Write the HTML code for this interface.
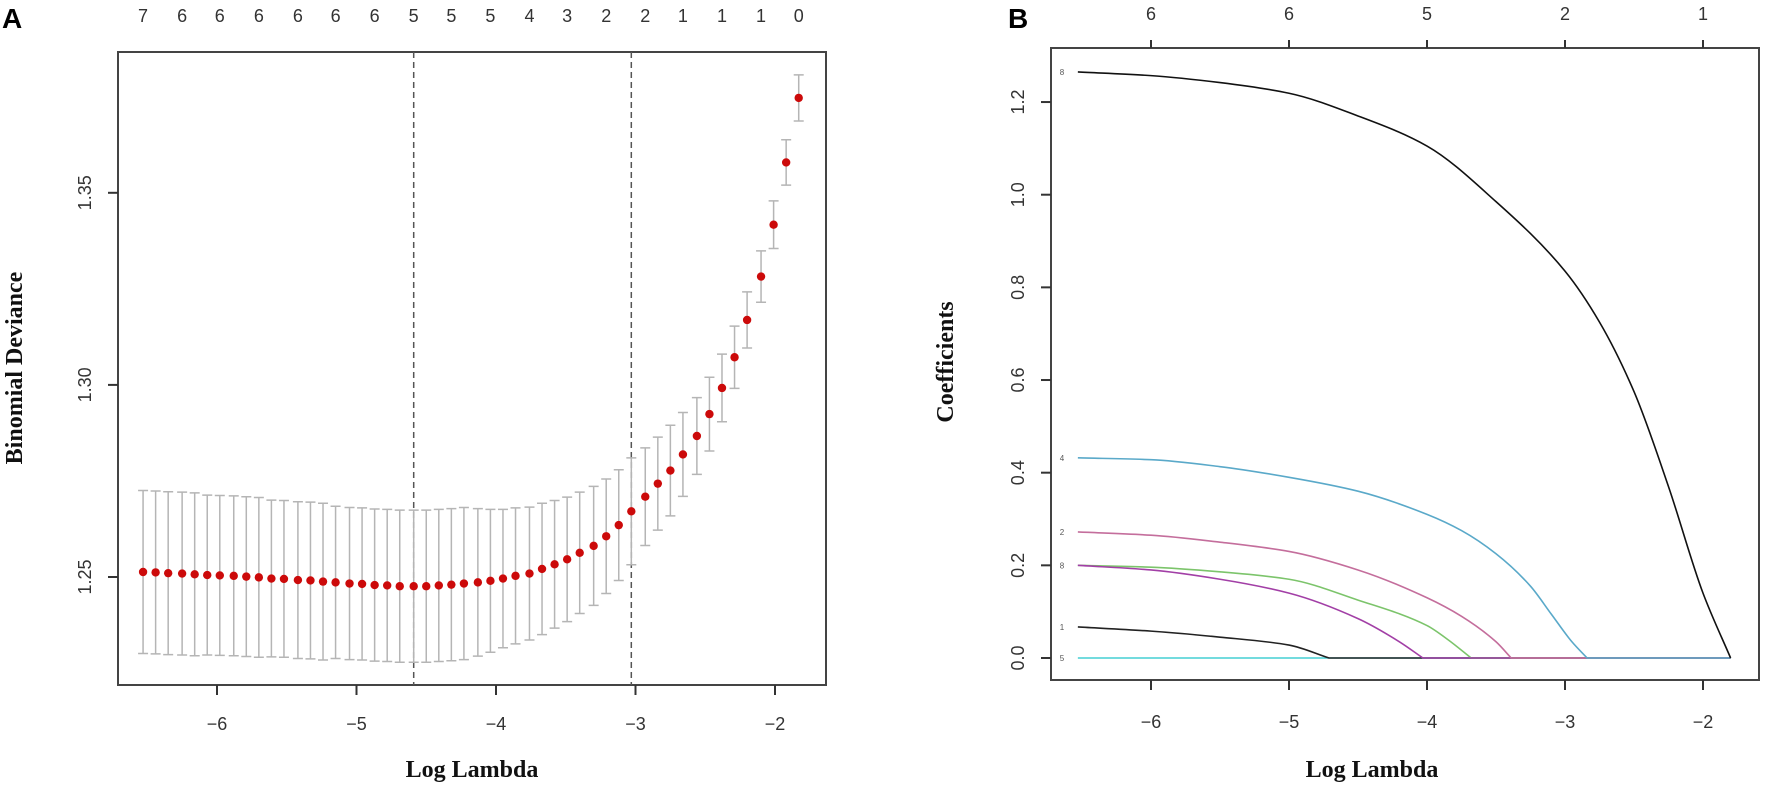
<!DOCTYPE html>
<html><head><meta charset="utf-8"><style>
html,body{margin:0;padding:0;background:#fff;}
svg{display:block;}
.tk{font-family:"Liberation Sans",sans-serif;font-size:18px;fill:#333;}
.ttl{font-family:"Liberation Serif",serif;font-size:24px;font-weight:bold;fill:#111;}
.pl{font-family:"Liberation Sans",sans-serif;font-size:28px;font-weight:bold;fill:#000;}
.sm{font-family:"Liberation Sans",sans-serif;font-size:8px;fill:#555;}
</style></head><body>
<svg id="fig" width="1772" height="791" viewBox="0 0 1772 791" xmlns="http://www.w3.org/2000/svg">
<rect width="1772" height="791" fill="#fff"/>
<text x="2" y="28" class="pl">A</text>
<text x="1008" y="28" class="pl">B</text>
<g id="pa"></g>
<g id="pb"></g>
</svg>
<script>
// ===== Panel A data =====
const logLambda = [-6.53,-6.44,-6.35,-6.25,-6.16,-6.07,-5.98,-5.88,-5.79,-5.70,-5.61,-5.52,-5.42,-5.33,-5.24,-5.15,-5.05,-4.96,-4.87,-4.78,-4.69,-4.59,-4.50,-4.41,-4.32,-4.23,-4.13,-4.04,-3.95,-3.86,-3.76,-3.67,-3.58,-3.49,-3.40,-3.30,-3.21,-3.12,-3.03,-2.93,-2.84,-2.75,-2.66,-2.56,-2.47,-2.38,-2.29,-2.20,-2.10,-2.01,-1.92,-1.83];
const deviance = [1.2513,1.2512,1.2510,1.2509,1.2507,1.2505,1.2504,1.2503,1.2501,1.2499,1.2496,1.2495,1.2492,1.2491,1.2488,1.2486,1.2483,1.2482,1.2479,1.2478,1.2476,1.2476,1.2476,1.2478,1.2480,1.2483,1.2486,1.2490,1.2496,1.2503,1.2509,1.2521,1.2533,1.2546,1.2563,1.2581,1.2606,1.2635,1.2671,1.2709,1.2743,1.2777,1.2819,1.2867,1.2924,1.2992,1.3072,1.3169,1.3282,1.3417,1.3579,1.3747];
const devianceSE = [0.0212,0.0212,0.0212,0.0212,0.0212,0.0208,0.0208,0.0208,0.0208,0.0208,0.0204,0.0204,0.0204,0.0204,0.0204,0.0198,0.0198,0.0198,0.0198,0.0198,0.0198,0.0198,0.0198,0.0198,0.0198,0.0198,0.0192,0.0186,0.0180,0.0177,0.0173,0.0171,0.0166,0.0162,0.0158,0.0155,0.0149,0.0144,0.0139,0.0127,0.0121,0.0118,0.0109,0.0100,0.0096,0.0088,0.0081,0.0073,0.0067,0.0062,0.0059,0.0060];
const nonzeroCounts = [7,6,6,6,6,6,6,5,5,5,4,3,2,2,1,1,1,0];
const xTicksA = [-6,-5,-4,-3,-2];
const yTicksA = [1.25,1.30,1.35];
const yTickLabelsA = ["1.25","1.30","1.35"];
const lambdaMin = -4.59, lambda1se = -3.03;

// ===== Panel B data =====
const xTicksB = [-6,-5,-4,-3,-2];
const topCountsB = [6,6,5,2,1];
const yTicksB = [0,0.2,0.4,0.6,0.8,1.0,1.2];
const yTickLabelsB = ["0.0","0.2","0.4","0.6","0.8","1.0","1.2"];
const varLabels = ["8","4","2","8","1","5","g"];
const varColors = ["#111111","#5aa9c9","#c46e9c","#a23fa6","#222222","#45cfd3","#7cc46b"];
const pathX0 = [-6.53,-6,-5.5,-5,-4.5,-4,-3.5,-3,-2.75,-2.5,-2.25,-2,-1.8];
const pathY0 = [1.265,1.257,1.242,1.219,1.17,1.105,0.985,0.835,0.725,0.575,0.37,0.14,0];
const pathX1 = [-6.53,-6,-5.5,-5,-4.5,-4,-3.75,-3.5,-3.25,-3.1,-2.95,-2.84,-1.8];
const pathY1 = [0.432,0.428,0.413,0.39,0.36,0.31,0.275,0.225,0.155,0.095,0.035,0,0];
const pathX2 = [-6.53,-6,-5.5,-5,-4.5,-4,-3.75,-3.5,-3.39,-1.8];
const pathY2 = [0.272,0.265,0.25,0.23,0.19,0.13,0.09,0.035,0,0];
const pathX3 = [-6.53,-6,-5.5,-5,-4.5,-4.2,-4.03,-1.8];
const pathY3 = [0.20,0.19,0.17,0.14,0.085,0.035,0,0];
const pathX4 = [-6.53,-6,-5.5,-5,-4.71,-1.8];
const pathY4 = [0.067,0.058,0.045,0.028,0,0];
const pathX5 = [-6.53,-1.8];
const pathY5 = [0,0];
const pathX6 = [-6.53,-6,-5.5,-5,-4.5,-4,-3.85,-3.68,-1.8];
const pathY6 = [0.20,0.196,0.186,0.17,0.125,0.07,0.04,0,0];

const NS="http://www.w3.org/2000/svg";
function mk(tag, attrs, parent, txt){
  const e=document.createElementNS(NS,tag);
  for(const k in attrs) e.setAttribute(k,attrs[k]);
  if(txt!==undefined) e.textContent=txt;
  parent.appendChild(e); return e;
}
// monotone cubic (Fritsch-Carlson) path through pixel points
function monoPath(pts){
  const n=pts.length;
  let d='M'+pts[0][0].toFixed(2)+','+pts[0][1].toFixed(2);
  if(n===2) return d+'L'+pts[1][0]+','+pts[1][1];
  const dx=[],s=[];
  for(let i=0;i<n-1;i++){dx.push(pts[i+1][0]-pts[i][0]);s.push((pts[i+1][1]-pts[i][1])/dx[i]);}
  const m=[s[0]];
  for(let i=1;i<n-1;i++){
    m.push(s[i-1]*s[i]<=0?0:3*(dx[i-1]+dx[i])/((2*dx[i]+dx[i-1])/s[i-1]+(dx[i]+2*dx[i-1])/s[i]));
  }
  m.push(s[n-2]);
  for(let i=0;i<n-1;i++){
    const h=dx[i];
    const c1=[pts[i][0]+h/3,pts[i][1]+m[i]*h/3];
    const c2=[pts[i+1][0]-h/3,pts[i+1][1]-m[i+1]*h/3];
    d+=`C${c1[0].toFixed(2)},${c1[1].toFixed(2)} ${c2[0].toFixed(2)},${c2[1].toFixed(2)} ${pts[i+1][0].toFixed(2)},${pts[i+1][1].toFixed(2)}`;
  }
  return d;
}
// Panel A axes
const A={l:118,r:826,t:52,b:685};
const xA=v=>217+(v+6)*139.5;
const yA=v=>577-(v-1.25)*3842;
const pa=document.getElementById('pa');
let e;
e=mk('rect',{x:A.l,y:A.t,width:A.r-A.l,height:A.b-A.t,fill:'none',stroke:'#444','stroke-width':2},pa);


xTicksA.forEach(v=>{
  e=mk('line',{x1:xA(v),x2:xA(v),y1:A.b,y2:A.b+10,stroke:'#333','stroke-width':2},pa);
  
  
  e=mk('text',{x:xA(v),y:730,'text-anchor':'middle',class:'tk'},pa,'\u2212'+Math.abs(v));
  
  
});
yTicksA.forEach((v,i)=>{
  e=mk('line',{x1:A.l-10,x2:A.l,y1:yA(v),y2:yA(v),stroke:'#333','stroke-width':2},pa);
  
  
  e=mk('text',{x:0,y:0,'text-anchor':'middle',class:'tk',transform:`translate(91,${yA(v)}) rotate(-90)`},pa,yTickLabelsA[i]);
  
  
});
nonzeroCounts.forEach((c,i)=>{
  e=mk('text',{x:xA(logLambda[i*3]),y:22,'text-anchor':'middle',class:'tk'},pa,String(c));
  
  
});
[lambdaMin,lambda1se].forEach(v=>{
  e=mk('line',{x1:xA(v),x2:xA(v),y1:A.t,y2:A.b,stroke:'#555','stroke-width':1.5,'stroke-dasharray':'6,4'},pa);
  
  
});
logLambda.forEach((lx,i)=>{
  const x=xA(lx), hi=yA(deviance[i]+devianceSE[i]), lo=yA(deviance[i]-devianceSE[i]);
  e=mk('path',{d:`M${x},${hi}V${lo}M${x-5},${hi}H${x+5}M${x-5},${lo}H${x+5}`,stroke:'#b5b5b5','stroke-width':1.5,fill:'none'},pa);
  
  
});
logLambda.forEach((lx,i)=>{
  e=mk('circle',{cx:xA(lx),cy:yA(deviance[i]),r:4.2,fill:'#cc0a0a'},pa);
  
  
});
e=mk('text',{x:472,y:777,'text-anchor':'middle',class:'ttl'},pa,'Log Lambda');


e=mk('text',{x:0,y:0,'text-anchor':'middle',class:'ttl',transform:'translate(22,368) rotate(-90)'},pa,'Binomial  Deviance');



// Panel B
const B={l:1051,r:1759,t:48,b:680};
const xB=v=>1151+(v+6)*138;
const yB=v=>658-v*463.3;
const pb=document.getElementById('pb');
e=mk('rect',{x:B.l,y:B.t,width:B.r-B.l,height:B.b-B.t,fill:'none',stroke:'#444','stroke-width':2},pb);


xTicksB.forEach((v,i)=>{
  e=mk('line',{x1:xB(v),x2:xB(v),y1:B.b,y2:B.b+10,stroke:'#333','stroke-width':2},pb);
  
  
  e=mk('text',{x:xB(v),y:728,'text-anchor':'middle',class:'tk'},pb,'\u2212'+Math.abs(v));
  
  
  e=mk('line',{x1:xB(v),x2:xB(v),y1:B.t-8,y2:B.t,stroke:'#333','stroke-width':2},pb);
  
  
  e=mk('text',{x:xB(v),y:20,'text-anchor':'middle',class:'tk'},pb,String(topCountsB[i]));
  
  
});
yTicksB.forEach((v,i)=>{
  e=mk('line',{x1:B.l-10,x2:B.l,y1:yB(v),y2:yB(v),stroke:'#333','stroke-width':2},pb);
  
  
  e=mk('text',{x:0,y:0,'text-anchor':'middle',class:'tk',transform:`translate(1024,${yB(v)}) rotate(-90)`},pb,yTickLabelsB[i]);
  
  
});
const pathsX=[pathX0,pathX1,pathX2,pathX3,pathX4,pathX5,pathX6];
const pathsY=[pathY0,pathY1,pathY2,pathY3,pathY4,pathY5,pathY6];
const order=[5,4,6,3,2,1,0];
order.forEach(k=>{
  const xs=pathsX[k], ys=pathsY[k];
  let z=ys.indexOf(0); if(z<0) z=ys.length-1;
  const curvePts=[];
  for(let j=0;j<=z;j++) curvePts.push([xB(xs[j]),yB(ys[j])]);
  let d = z>0 ? monoPath(curvePts) : 'M'+curvePts[0][0]+','+curvePts[0][1];
  for(let j=z+1;j<xs.length;j++) d+='L'+xB(xs[j])+','+yB(ys[j]);
  e=mk('path',{d:d,fill:'none',stroke:varColors[k],'stroke-width':1.6},pb);
  
  
  if(k!==6){
    e=mk('text',{x:1062,y:yB(ys[0])+3,'text-anchor':'middle',class:'sm'},pb,varLabels[k]);
    
    
  }
});
e=mk('text',{x:1372,y:777,'text-anchor':'middle',class:'ttl'},pb,'Log Lambda');


e=mk('text',{x:0,y:0,'text-anchor':'middle',class:'ttl',transform:'translate(953,362) rotate(-90)'},pb,'Coefficients');


</script>
</body></html>
